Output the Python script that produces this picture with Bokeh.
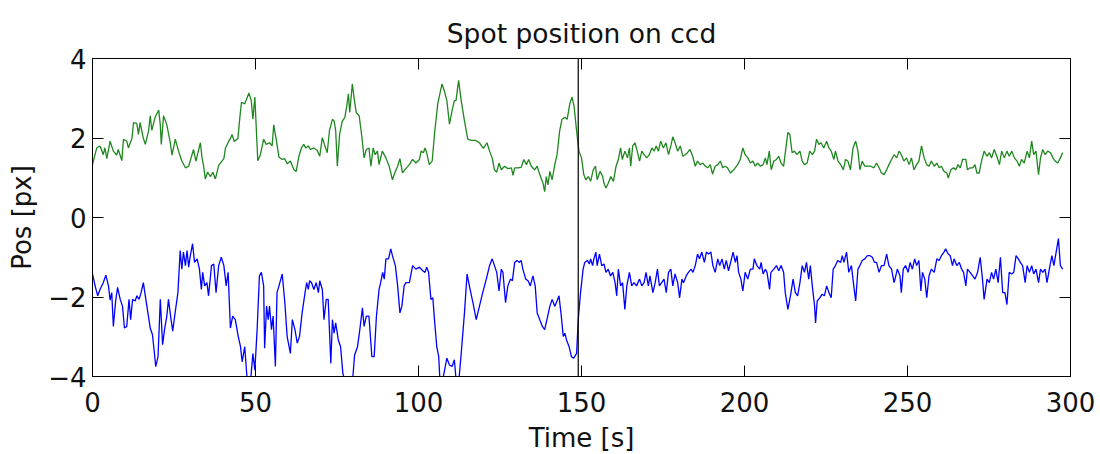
from bokeh.plotting import figure
from bokeh.models import Range1d, LinearAxis, Span, FixedTicker, CustomJSTickFormatter
from bokeh.embed import file_html
from bokeh.resources import INLINE

title_text = "Spot position on ccd"
x_label = "Time [s]"
y_label = "Pos [px]"
x_ticks = [0, 50, 100, 150, 200, 250, 300]
y_ticks = [-4, -2, 0, 2, 4]
event_time = 149.0

green_t = [0, 1.3, 2.3, 3.3, 3.8, 4.4, 5.4, 6.4, 7.4, 7.9, 9.0, 9.5, 10.5, 11.0, 12.1, 12.6, 13.6, 14.1, 14.6, 15.6,
           16.2, 17.2, 17.7, 18.2, 19.2, 20.3, 20.8, 21.1, 21.8, 22.8, 23.8, 24.4, 25.4, 26.4, 27.4, 28.5, 29.5, 30.3, 31.0, 31.7,
           33.1, 33.6, 34.1, 34.6, 35.3, 36.2, 36.9, 37.7, 38.7, 39.7, 40.3, 40.8, 41.8, 42.3, 42.8, 43.5, 44.6, 45.2, 45.7, 46.7,
           48.0, 48.7, 49.2, 49.8, 50.7, 51.5, 52.5, 53.3, 54.3, 55.1, 55.6, 56.3, 57.2, 58.2, 59.0, 59.7, 60.7, 61.8, 62.5, 63.3,
           64.1, 64.8, 65.4, 66.2, 66.9, 67.9, 68.9, 69.7, 70.5, 71.3, 72.0, 72.7, 73.6, 74.1, 74.6, 75.1, 75.8, 76.6, 77.4, 78.0,
           78.5, 78.9, 79.7, 80.2, 80.9, 81.8, 82.6, 83.3, 84.0, 84.8, 85.4, 86.1, 86.7, 87.4, 87.9, 88.9, 90.0, 91.0, 92.0, 92.8,
           93.6, 94.3, 95.1, 96.1, 97.2, 98.2, 99.2, 100.3, 100.8, 101.5, 102.0, 102.5, 103.3, 104.2, 104.9, 105.9, 107.2, 107.9, 108.7, 109.5,
           110.3, 111.0, 111.5, 112.3, 113.1, 114.1, 115.1, 116.2, 117.5, 118.7, 119.9, 121.0, 121.8, 122.6, 123.3, 124.0, 124.7, 125.4, 126.4, 127.4,
           128.5, 129.0, 129.5, 130.5, 131.5, 132.3, 133.1, 133.8, 134.6, 135.6, 136.4, 137.2, 138.2, 138.7, 139.2, 139.7, 140.3, 141.0, 141.8, 142.5,
           143.3, 144.0, 144.9, 145.6, 146.4, 147.1, 147.7, 148.5, 149.2, 150.0, 150.7, 151.3, 152.1, 152.8, 153.6, 154.3, 154.8, 155.7, 156.5, 156.9,
           157.5, 158.2, 159.0, 159.8, 160.6, 161.3, 162.0, 162.5, 163.3, 164.1, 164.7, 165.1, 165.7, 166.4, 167.1, 167.8, 168.5, 169.2, 170.0, 170.8,
           171.6, 172.3, 172.9, 173.6, 174.3, 175.1, 175.9, 176.7, 177.4, 178.0, 178.7, 179.5, 180.3, 181.1, 181.8, 182.5, 183.3, 184.1, 184.9, 185.6,
           186.4, 187.2, 188.0, 188.7, 189.5, 190.2, 191.0, 191.8, 192.6, 193.3, 194.1, 194.8, 195.7, 196.7, 197.9, 198.7, 199.5, 200.2, 201.0, 201.8,
           202.6, 203.3, 204.0, 204.9, 205.7, 206.4, 206.9, 207.6, 208.2, 209.0, 209.8, 210.5, 211.2, 212.0, 212.7, 213.3, 213.9, 214.6, 215.3, 216.1,
           217.0, 217.7, 218.4, 219.2, 220.0, 220.8, 221.5, 222.1, 222.8, 223.5, 224.3, 225.2, 225.9, 226.6, 227.4, 227.9, 228.7, 229.5, 230.3, 231.0,
           231.7, 232.5, 233.3, 234.1, 234.8, 235.4, 236.1, 236.9, 237.7, 238.7, 239.7, 240.5, 241.3, 242.0, 242.8, 243.6, 244.3, 245.1, 245.9, 246.7,
           247.4, 248.1, 248.9, 249.7, 250.5, 251.2, 252.0, 252.8, 253.5, 254.3, 255.1, 255.9, 256.6, 257.3, 258.2, 259.0, 259.7, 260.4, 261.2, 262.1,
           262.5, 263.3, 264.1, 264.8, 265.5, 266.2, 266.9, 267.9, 268.4, 269.2, 270.0, 270.7, 271.3, 272.0, 272.7, 273.5, 274.4, 275.1, 275.8, 276.6,
           277.4, 278.2, 278.9, 279.7, 280.5, 281.2, 282.0, 282.8, 283.6, 284.3, 285.0, 285.8, 286.7, 287.4, 288.1, 288.7, 289.4, 290.2, 290.8, 291.5,
           292.2, 293.0, 293.9, 294.6, 295.3, 296.1, 296.9, 297.6]
green_pos = [1.33, 1.75, 1.80, 1.58, 1.75, 1.48, 1.92, 1.67, 1.57, 1.71, 1.43, 1.97, 1.92, 1.75, 1.99, 2.39, 2.36, 2.09, 2.39, 1.99,
             1.84, 2.18, 2.56, 2.19, 2.52, 2.70, 2.33, 1.84, 2.56, 2.33, 1.91, 1.57, 1.97, 1.67, 1.42, 1.25, 1.29, 1.52, 1.71, 1.42,
             1.88, 1.50, 1.29, 0.97, 1.14, 1.03, 1.14, 0.97, 1.31, 1.42, 1.48, 1.75, 1.92, 1.99, 2.09, 1.91, 1.99, 2.52, 2.90, 2.86,
             3.13, 2.94, 2.47, 3.03, 1.43, 1.58, 1.97, 1.84, 1.88, 1.80, 2.33, 1.99, 1.52, 1.46, 1.48, 1.35, 1.42, 1.20, 1.16, 1.54,
             1.75, 1.84, 1.75, 1.80, 1.71, 1.75, 1.69, 1.54, 2.01, 1.80, 1.63, 2.19, 2.47, 2.43, 2.18, 1.29, 2.09, 2.42, 2.52, 2.81,
             3.11, 2.64, 3.36, 3.03, 2.64, 2.56, 2.05, 1.50, 1.71, 1.75, 1.29, 1.75, 1.58, 1.67, 1.33, 1.67, 1.50, 1.29, 0.95, 1.14,
             1.29, 1.48, 1.12, 1.23, 1.33, 1.46, 1.37, 1.46, 1.67, 1.63, 1.75, 1.63, 1.33, 1.42, 2.09, 2.86, 3.36, 3.19, 2.94, 2.35,
             2.69, 2.94, 2.94, 3.45, 2.94, 2.43, 1.97, 1.94, 1.94, 1.88, 1.74, 1.88, 1.67, 1.50, 1.20, 1.14, 1.37, 1.20, 1.29, 1.23,
             1.25, 1.06, 1.25, 1.25, 1.26, 1.46, 1.33, 1.46, 1.29, 1.20, 1.29, 1.08, 0.86, 0.65, 1.03, 0.82, 1.16, 0.95, 1.33, 1.58,
             2.18, 2.47, 2.52, 2.47, 2.86, 3.03, 2.81, 2.18, 1.67, 1.50, 1.08, 0.95, 1.03, 0.91, 1.20, 1.29, 0.95, 1.16, 1.03, 0.86,
             0.74, 0.86, 1.03, 0.91, 1.29, 1.46, 1.75, 1.46, 1.67, 1.50, 1.75, 1.29, 1.80, 1.88, 1.67, 1.42, 1.67, 1.58, 1.50, 1.58,
             1.75, 1.67, 1.80, 1.67, 1.92, 1.75, 1.88, 1.58, 1.80, 2.03, 1.88, 1.67, 1.80, 1.54, 1.58, 1.63, 1.71, 1.54, 1.29, 1.42,
             1.33, 1.37, 1.29, 1.25, 1.33, 1.09, 1.29, 1.33, 1.42, 1.25, 1.29, 1.25, 1.12, 1.20, 1.33, 1.46, 1.75, 1.58, 1.50, 1.37,
             1.42, 1.29, 1.37, 1.29, 1.33, 1.50, 1.33, 1.67, 1.20, 1.42, 1.46, 1.54, 1.37, 1.29, 1.75, 2.14, 2.09, 1.63, 1.67, 1.58,
             1.67, 1.42, 1.33, 1.37, 1.67, 1.58, 1.67, 1.97, 1.84, 1.88, 1.75, 1.92, 1.75, 1.67, 1.46, 1.67, 1.42, 1.33, 1.20, 1.46,
             1.42, 1.20, 1.75, 1.92, 1.67, 1.20, 1.42, 1.29, 1.29, 1.29, 1.25, 1.37, 1.25, 1.12, 1.08, 1.20, 1.33, 1.46, 1.58, 1.50,
             1.67, 1.58, 1.42, 1.50, 1.33, 1.50, 1.20, 1.33, 1.42, 1.80, 1.50, 1.33, 1.29, 1.42, 1.29, 1.37, 1.25, 1.29, 1.16, 1.12,
             0.99, 1.20, 1.25, 1.20, 1.33, 1.25, 1.46, 1.46, 1.20, 1.25, 1.25, 1.33, 1.12, 1.12, 1.42, 1.67, 1.54, 1.63, 1.50, 1.71,
             1.54, 1.33, 1.67, 1.50, 1.67, 1.54, 1.67, 1.50, 1.42, 1.29, 1.46, 1.37, 1.67, 1.50, 1.92, 1.58, 1.67, 1.08, 1.50, 1.71,
             1.58, 1.67, 1.63, 1.50, 1.42, 1.37, 1.50, 1.63]

blue_t = [0, 0.8, 1.6, 2.3, 3.3, 4.1, 4.9, 5.4, 5.9, 6.4, 7.1, 7.7, 8.5, 9.2, 9.8, 10.5, 11.2, 11.7, 12.3, 13.1,
          13.6, 14.3, 14.9, 15.6, 16.2, 17.0, 17.7, 18.4, 19.0, 19.4, 20.1, 20.8, 21.5, 22.1, 22.8, 23.3, 24.1, 24.6, 25.4, 26.2,
          26.9, 27.4, 27.9, 28.5, 29.0, 29.5, 30.0, 30.7, 31.3, 32.1, 32.8, 33.4, 33.8, 34.4, 35.1, 35.6, 36.5, 37.2, 37.9, 38.7,
          39.5, 40.3, 41.0, 41.6, 42.3, 43.0, 43.8, 44.7, 45.4, 45.9, 46.7, 47.4, 48.5, 49.2, 49.8, 50.5, 51.2, 51.8, 52.5, 52.8,
          53.4, 53.9, 54.3, 54.9, 55.4, 56.1, 56.6, 57.2, 58.2, 59.0, 59.7, 60.7, 61.3, 62.1, 62.8, 63.5, 64.3, 65.2, 65.7, 66.2,
          66.6, 67.2, 67.9, 68.6, 69.3, 69.7, 70.5, 71.0, 71.7, 72.3, 73.1, 73.6, 74.1, 74.6, 75.4, 76.1, 76.8, 77.7, 78.7, 79.7,
          80.4, 81.3, 82.0, 82.8, 83.3, 84.0, 84.8, 85.7, 86.4, 87.1, 87.9, 88.4, 89.0, 89.5, 90.0, 90.8, 91.5, 92.0, 92.9, 93.6,
          94.3, 94.9, 95.6, 96.1, 97.2, 98.2, 99.2, 100.3, 101.3, 102.0, 102.5, 103.1, 103.8, 104.4, 104.9, 105.6, 106.2, 106.6, 107.2, 108.0,
          108.7, 109.5, 110.3, 111.0, 111.5, 112.3, 113.1, 114.1, 114.9, 115.6, 116.7, 117.7, 118.7, 119.7, 120.8, 121.8, 122.6, 123.3, 124.0, 124.7,
          125.4, 125.9, 126.7, 127.4, 128.2, 128.8, 129.5, 130.2, 131.0, 131.5, 132.0, 132.9, 133.6, 134.3, 135.1, 135.8, 136.4, 137.2, 138.0, 138.7,
          139.4, 140.3, 141.0, 141.8, 142.5, 143.1, 143.8, 144.4, 144.9, 145.4, 146.2, 146.9, 147.6, 148.5, 149.0, 149.7, 150.5, 151.0, 151.8, 152.4,
          152.8, 153.4, 153.8, 154.4, 154.8, 155.5, 156.2, 156.9, 157.5, 158.2, 158.9, 159.6, 160.3, 160.8, 161.3, 162.0, 162.6, 163.3, 163.9, 164.7,
          165.4, 166.1, 166.9, 167.8, 168.5, 169.2, 169.8, 170.5, 171.0, 171.9, 172.6, 173.3, 173.9, 174.6, 175.3, 176.0, 176.7, 177.4, 178.0, 178.7,
          179.5, 180.1, 180.8, 181.3, 182.1, 182.8, 183.6, 184.2, 184.9, 185.6, 186.2, 186.9, 187.7, 188.3, 189.0, 189.7, 190.3, 191.0, 191.8, 192.4,
          193.1, 193.8, 194.4, 195.1, 195.9, 196.5, 197.2, 197.7, 198.2, 198.9, 199.5, 200.2, 201.0, 201.8, 202.6, 203.0, 203.8, 204.7, 205.1, 205.7,
          206.4, 206.9, 207.7, 208.1, 209.0, 209.8, 210.5, 211.2, 212.0, 212.5, 213.3, 214.1, 214.9, 215.6, 216.3, 217.0, 217.7, 218.4, 219.0, 219.7,
          220.2, 220.8, 221.5, 221.8, 222.3, 223.1, 223.8, 224.5, 225.2, 225.9, 226.6, 227.2, 227.9, 228.6, 229.5, 230.0, 230.5, 231.3, 232.0, 232.8,
          233.4, 234.1, 234.8, 235.4, 236.1, 236.9, 237.7, 238.5, 239.2, 239.9, 240.5, 241.3, 242.0, 242.8, 243.6, 244.3, 245.1, 245.9, 246.9, 247.7,
          248.1, 248.7, 249.4, 250.2, 250.8, 251.5, 252.2, 252.8, 253.5, 254.1, 254.6, 255.3, 255.9, 256.6, 257.3, 258.2, 259.0, 259.7, 260.4, 261.2,
          261.7, 262.5, 263.1, 263.8, 264.3, 265.1, 265.9, 266.6, 267.2, 267.9, 268.4, 269.2, 270.0, 270.7, 271.5, 272.3, 273.0, 273.5, 274.4, 275.1,
          275.8, 276.4, 277.1, 277.8, 278.5, 279.2, 279.9, 280.5, 281.2, 282.0, 282.6, 283.3, 284.0, 284.6, 285.3, 286.1, 286.7, 287.4, 288.1, 288.7,
          289.4, 290.2, 290.8, 291.5, 292.2, 292.8, 293.5, 294.3, 294.9, 295.6, 296.3, 296.9, 297.6]
blue_pos = [-1.42, -1.72, -1.97, -1.81, -1.64, -1.45, -1.72, -2.08, -1.89, -2.74, -2.10, -1.76, -2.06, -2.23, -2.78, -2.74, -2.06, -2.57, -2.06, -2.10,
            -1.97, -2.06, -1.89, -1.64, -1.97, -2.40, -2.78, -2.95, -3.42, -3.75, -3.50, -2.06, -3.20, -2.82, -2.48, -2.06, -2.57, -2.86, -2.36, -1.89,
            -0.83, -1.30, -0.87, -1.21, -0.83, -1.25, -0.96, -0.66, -1.13, -1.04, -1.30, -1.81, -1.38, -1.72, -1.64, -1.97, -1.21, -1.17, -1.89, -1.21,
            -1.00, -1.21, -1.72, -1.38, -2.78, -2.48, -2.57, -2.99, -3.25, -3.63, -3.25, -4.05, -4.10, -3.42, -3.84, -2.82, -1.47, -1.38, -1.72, -3.29,
            -2.23, -2.57, -2.23, -2.82, -2.48, -3.75, -1.89, -1.72, -1.42, -2.14, -2.99, -3.42, -2.57, -2.82, -3.16, -2.99, -2.40, -1.89, -1.64, -1.81,
            -1.59, -1.64, -1.81, -1.64, -1.89, -1.59, -1.81, -2.57, -2.06, -2.06, -3.67, -2.57, -2.91, -2.65, -3.08, -3.25, -3.92, -4.18, -4.22, -4.18,
            -3.46, -3.25, -2.82, -2.27, -2.74, -2.48, -2.48, -3.50, -3.50, -2.48, -1.81, -1.64, -1.38, -1.55, -1.04, -1.04, -0.79, -0.96, -1.21, -1.72,
            -2.40, -2.23, -1.72, -1.64, -1.64, -1.21, -1.30, -1.25, -1.34, -1.38, -1.25, -1.38, -2.06, -2.02, -2.57, -3.25, -3.50, -4.14, -4.18, -3.84,
            -3.54, -3.71, -3.75, -3.58, -4.05, -4.18, -3.42, -2.40, -1.42, -1.72, -2.14, -2.57, -2.23, -1.89, -1.55, -1.21, -1.04, -1.21, -1.38, -1.85,
            -1.30, -1.38, -2.14, -1.72, -1.55, -1.59, -1.13, -1.08, -1.13, -1.08, -1.30, -1.55, -1.59, -1.72, -1.47, -1.72, -2.40, -2.57, -2.74, -2.82,
            -2.57, -2.23, -2.06, -2.23, -2.10, -1.97, -2.48, -2.99, -2.91, -3.08, -3.25, -3.50, -3.54, -3.42, -2.57, -1.89, -1.30, -1.13, -1.08, -1.17,
            -1.04, -1.21, -1.04, -0.87, -1.21, -0.92, -1.21, -1.17, -1.38, -1.30, -1.47, -1.38, -1.64, -1.97, -1.30, -1.72, -1.64, -2.31, -1.72, -1.38,
            -1.72, -1.64, -1.72, -1.55, -1.72, -1.64, -1.38, -1.72, -1.47, -1.89, -1.64, -1.30, -1.72, -1.64, -1.55, -1.89, -1.38, -1.30, -1.72, -1.42,
            -1.64, -2.02, -1.55, -1.64, -1.47, -1.38, -1.30, -1.38, -1.21, -0.92, -1.04, -0.87, -1.13, -0.87, -0.92, -0.87, -1.21, -1.38, -1.04, -1.21,
            -1.04, -1.30, -1.08, -1.34, -1.08, -0.87, -1.13, -0.96, -1.38, -1.55, -1.85, -1.38, -1.55, -1.30, -1.30, -1.04, -1.21, -1.30, -1.13, -1.42,
            -1.30, -1.38, -1.81, -1.38, -1.30, -1.21, -1.34, -1.21, -1.38, -1.89, -2.31, -1.97, -1.55, -1.89, -1.97, -1.64, -1.21, -1.38, -1.13, -1.55,
            -1.21, -1.72, -2.23, -2.65, -2.10, -2.02, -1.93, -1.97, -1.72, -1.89, -2.02, -1.30, -1.21, -1.08, -1.13, -0.96, -1.13, -0.87, -1.38, -1.21,
            -1.64, -2.10, -1.30, -1.21, -1.08, -1.04, -0.96, -0.96, -1.00, -1.13, -1.13, -1.38, -1.21, -1.21, -0.92, -1.21, -1.30, -1.64, -1.30, -1.47,
            -1.89, -1.30, -1.21, -1.38, -1.13, -1.30, -1.04, -1.21, -1.08, -1.85, -1.38, -1.55, -2.02, -1.47, -1.30, -1.38, -1.04, -1.08, -0.96, -0.87,
            -0.79, -0.92, -0.96, -1.21, -1.04, -1.21, -1.13, -1.30, -1.38, -1.72, -1.30, -1.38, -1.47, -1.55, -1.38, -1.00, -1.55, -2.06, -1.55, -1.64,
            -1.38, -1.55, -1.30, -1.64, -1.00, -1.89, -1.89, -2.19, -1.38, -1.42, -1.38, -0.96, -1.04, -1.13, -1.21, -1.64, -1.21, -1.38, -1.21, -1.42,
            -1.30, -1.64, -1.30, -1.38, -1.30, -1.64, -1.30, -0.96, -1.21, -0.87, -0.53, -1.21, -1.30]

FONT = "DejaVu Sans"

p = figure(frame_width=978, frame_height=318,
           min_border_left=92, min_border_right=30, min_border_top=58, min_border_bottom=78,
           x_range=Range1d(0, 300), y_range=Range1d(-4, 4),
           output_backend="svg", toolbar_location=None, title=title_text)

p.title.align = "center"
p.title.text_font = FONT
p.title.text_font_size = "26.5px"
p.title.text_font_style = "normal"
p.title.text_color = "#111111"
p.title.standoff = 20

p.xgrid.visible = False
p.ygrid.visible = False
p.outline_line_color = "black"
p.outline_line_width = 1
p.background_fill_color = "white"
p.border_fill_color = "white"

minus_fmt = CustomJSTickFormatter(code="return tick < 0 ? '\\u2212' + Math.abs(tick) : String(tick);")

def style_axis(ax, ticks, show_labels):
    ax.ticker = FixedTicker(ticks=ticks)
    ax.major_tick_in = 11
    ax.major_tick_out = 0
    ax.minor_tick_in = 0
    ax.minor_tick_out = 0
    ax.axis_line_color = "black"
    ax.major_tick_line_color = "black"
    ax.major_label_text_font = FONT
    ax.axis_label_text_font = FONT
    ax.axis_label_text_font_style = "normal"
    ax.axis_label_text_font_size = "26px"
    ax.axis_label_text_color = "#111111"
    if show_labels:
        ax.major_label_text_font_size = "26px"
        ax.major_label_text_color = "#111111"
        ax.formatter = minus_fmt
    else:
        ax.major_label_text_font_size = "0px"
        ax.major_label_text_color = None
        ax.major_label_standoff = 0

style_axis(p.xaxis[0], x_ticks, True)
style_axis(p.yaxis[0], y_ticks, True)
p.xaxis[0].axis_label = x_label
p.yaxis[0].axis_label = y_label
p.xaxis[0].major_label_standoff = 15
p.xaxis[0].axis_label_standoff = 8
p.yaxis[0].major_label_standoff = 6
p.yaxis[0].axis_label_standoff = 8

right_ax = LinearAxis()
style_axis(right_ax, y_ticks, False)
p.add_layout(right_ax, "right")
top_ax = LinearAxis()
style_axis(top_ax, x_ticks, False)
p.add_layout(top_ax, "above")

p.line(green_t, green_pos, line_color="#1f871f", line_width=1.3)
p.line(blue_t, blue_pos, line_color="#0000ff", line_width=1.3)

p.add_layout(Span(location=event_time, dimension="height", line_color="black", line_width=1.2))

open("out.html", "w").write(file_html(p, INLINE))
